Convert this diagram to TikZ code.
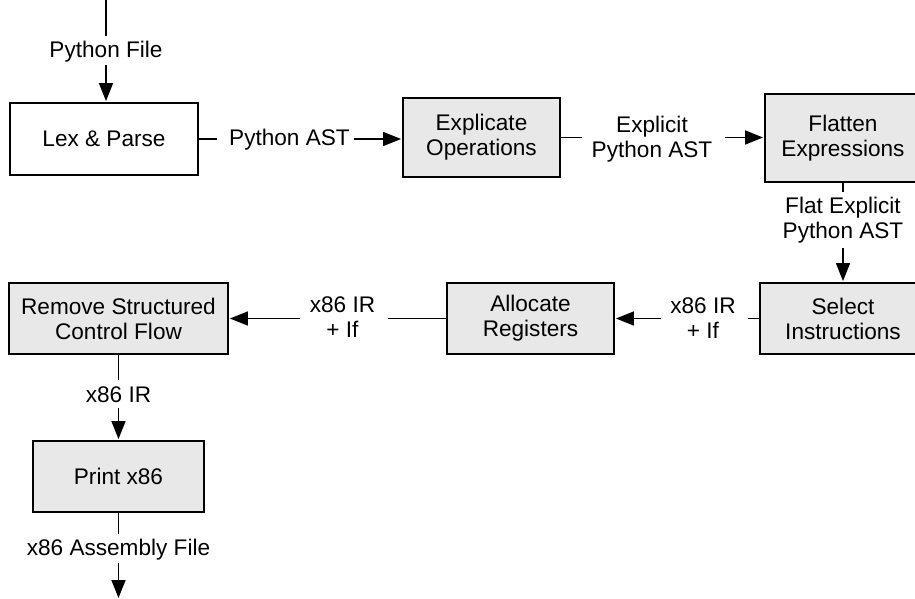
\documentclass[tikz,border=0pt]{standalone}
\usepackage{fontspec}
\setmainfont{Liberation Sans}
\usetikzlibrary{arrows.meta}
\definecolor{boxgray}{RGB}{232,232,232}
\begin{document}
\begin{tikzpicture}[x=1pt,y=-1pt,
  every node/.style={font=\fontsize{22.6}{25}\selectfont},
  box/.style={draw=black, line width=1.8pt, fill=boxgray, inner sep=0pt, align=center},
  wbox/.style={box, fill=white},
  lbl/.style={inner sep=0pt, align=center},
  conn/.style={line width=1.5pt},
  arr/.style={conn, -{Triangle[length=18pt,width=14pt]}, shorten >=1pt},
]
\useasboundingbox (0,0) rectangle (915,599);
\clip (0,0) rectangle (915,599);

% boxes
\node[wbox, minimum width=188pt, minimum height=72pt] (lex) at (104,139) {Lex \& Parse};
\node[box, minimum width=157pt, minimum height=79pt] (expl) at (481.5,137.5) {Explicate\\Operations};
\node[box, minimum width=156pt, minimum height=88pt] (flat) at (843,138) {Flatten\\Expressions};
\node[box, minimum width=166pt, minimum height=71pt] (sel) at (843,318.5) {Select\\Instructions};
\node[box, minimum width=167pt, minimum height=71pt] (alloc) at (530.5,318.5) {Allocate\\Registers};
\node[box, minimum width=219pt, minimum height=71pt] (rem) at (118.5,318.5) {Remove Structured\\Control Flow};
\node[box, minimum width=171pt, minimum height=71pt] (prn) at (118.5,476.5) {Print x86};

% labels
\node[lbl, anchor=base] (pf) at (106,57.5) {Python File};
\node[lbl, anchor=base] (pa) at (289.5,146) {Python AST};
\node[lbl] (epa) at (652,139.2) {Explicit\\Python AST};
\node[lbl] (fepa) at (843,220.5) {Flat Explicit\\Python AST};
\node[lbl] (ir1) at (703,318) {x86 IR\\+ If};
\node[lbl] (ir2) at (342.5,317.5) {x86 IR\\+ If};
\node[lbl, anchor=base] (ir3) at (118.5,402) {x86 IR};
\node[lbl, anchor=base] (asm) at (118.5,555) {x86 Assembly File};

\coordinate (tin) at (106,0);
\coordinate (tout) at (118.5,599);

% connectors
\draw[conn, shorten >=5pt] (tin) -- (pf.north);
\draw[arr, shorten <=3pt] (pf.south) -- (pf.south |- lex.north);

\draw[conn, shorten >=12pt] (lex.east) -- (lex.east -| pa.west);
\draw[arr, shorten <=4pt] (lex.east -| pa.east) -- (lex.east -| expl.west);

\draw[conn, shorten >=10pt] (expl.east) -- (expl.east -| epa.west);
\draw[arr, shorten <=12pt] (expl.east -| epa.east) -- (expl.east -| flat.west);

\draw[conn, shorten >=5pt] (flat.south) -- (fepa.north);
\draw[arr, shorten <=4pt] (fepa.south) -- (sel.north);

\draw[conn, shorten >=12pt] (sel.west) -- (sel.west -| ir1.east);
\draw[arr, shorten <=9pt] (sel.west -| ir1.west) -- (sel.west -| alloc.east);

\draw[conn, shorten >=13pt] (alloc.west) -- (alloc.west -| ir2.east);
\draw[arr, shorten <=10pt] (alloc.west -| ir2.west) -- (alloc.west -| rem.east);

\draw[conn, shorten >=6pt] (rem.south) -- (ir3.north);
\draw[arr, shorten <=6pt] (ir3.south) -- (prn.north);

\draw[conn, shorten >=4pt] (prn.south) -- (asm.north);
\draw[arr, shorten <=3pt] (asm.south) -- (tout);
\end{tikzpicture}
\end{document}
